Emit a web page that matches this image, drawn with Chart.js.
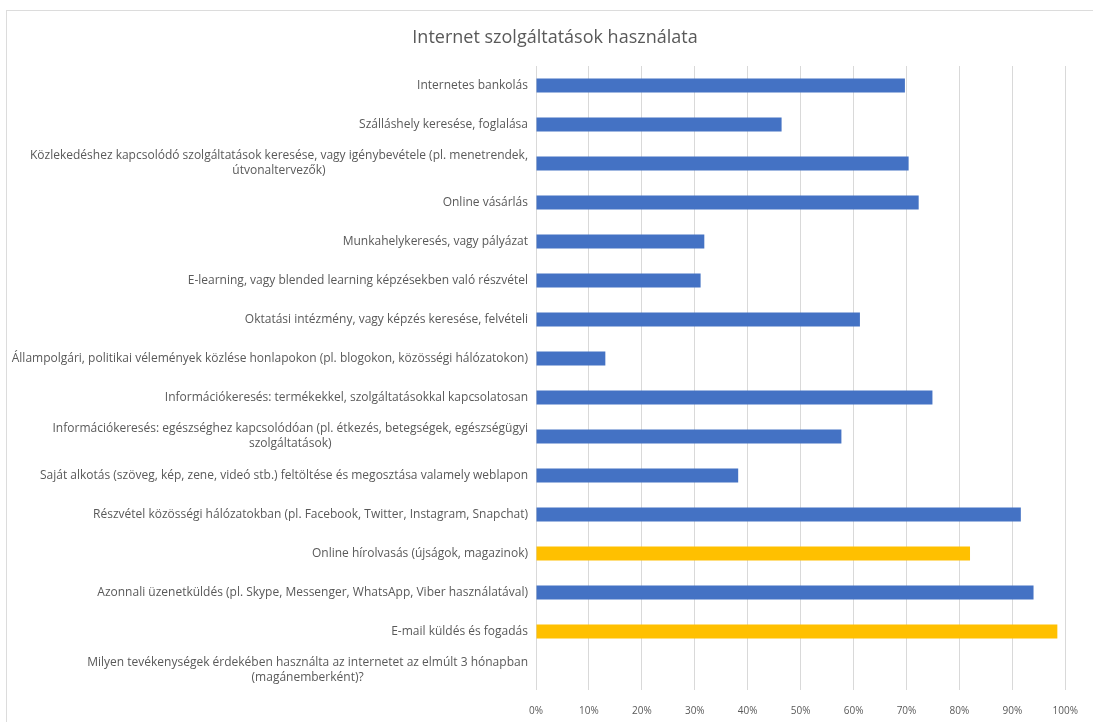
<!DOCTYPE html>
<html>
<head>
<meta charset="utf-8">
<script src="https://cdn.jsdelivr.net/npm/chart.js@4.4.1/dist/chart.umd.min.js"></script>
<style>
  html, body { margin: 0; padding: 0; background: #ffffff; }
  #wrap { position: relative; width: 1093px; height: 722px; overflow: hidden; background: #ffffff; }
  #frame { position: absolute; left: 6px; top: 10px; width: 1200px; height: 800px;
           border: 1px solid #dcdcdc; box-sizing: border-box; }
  #c { position: absolute; left: 0; top: 0; }
</style>
</head>
<body>
<div id="wrap">
  <div id="frame"></div>
  <canvas id="c" width="1093" height="722"></canvas>
</div>
<script>
// Survey: which online activities respondents used in the last 3 months (share of respondents)
const chartTitle = 'Internet szolgáltatások használata';

const categories = [
  'Internetes bankolás',
  'Szálláshely keresése, foglalása',
  ['Közlekedéshez kapcsolódó szolgáltatások keresése, vagy igénybevétele (pl. menetrendek,', 'útvonaltervezők)'],
  'Online vásárlás',
  'Munkahelykeresés, vagy pályázat',
  'E-learning, vagy blended learning képzésekben való részvétel',
  'Oktatási intézmény, vagy képzés keresése, felvételi',
  'Állampolgári, politikai vélemények közlése honlapokon (pl. blogokon, közösségi hálózatokon)',
  'Információkeresés: termékekkel, szolgáltatásokkal kapcsolatosan',
  ['Információkeresés: egészséghez kapcsolódóan (pl. étkezés, betegségek, egészségügyi', 'szolgáltatások)'],
  'Saját alkotás (szöveg, kép, zene, videó stb.) feltöltése és megosztása valamely weblapon',
  'Részvétel közösségi hálózatokban (pl. Facebook, Twitter, Instagram, Snapchat)',
  'Online hírolvasás (újságok, magazinok)',
  'Azonnali üzenetküldés (pl. Skype, Messenger, WhatsApp, Viber használatával)',
  'E-mail küldés és fogadás',
  ['Milyen tevékenységek érdekében használta az internetet az elmúlt 3 hónapban', '(magánemberként)?']
];

// share of respondents (0..1); the question row itself has no bar
const shares = [0.697, 0.464, 0.704, 0.723, 0.318, 0.311, 0.612, 0.131, 0.749, 0.577, 0.382, 0.916, 0.820, 0.940, 0.985, null];

// rows shown in the accent colour
const highlightedRows = ['Online hírolvasás (újságok, magazinok)', 'E-mail küldés és fogadás'];

const xTickValues = [0, 0.1, 0.2, 0.3, 0.4, 0.5, 0.6, 0.7, 0.8, 0.9, 1];
const xTickLabels = ['0%', '10%', '20%', '30%', '40%', '50%', '60%', '70%', '80%', '90%', '100%'];

const BLUE = '#4472C4';
const GOLD = '#FFC000';
const TEXT = '#595959';
const FONT = '"Open Sans", Lato, sans-serif';

const barColours = categories.map(c => highlightedRows.includes(Array.isArray(c) ? c.join(' ') : c) ? GOLD : BLUE);

// Category labels: right-aligned block, each line centred within the block
const categoryLabels = {
  id: 'categoryLabels',
  afterDraw(chart) {
    const ctx = chart.ctx;
    const yScale = chart.scales.y;
    const right = chart.chartArea.left - 8;
    const lineHeight = 15;
    ctx.save();
    ctx.font = '12px ' + FONT;
    ctx.fillStyle = TEXT;
    ctx.textAlign = 'center';
    ctx.textBaseline = 'middle';
    categories.forEach((label, i) => {
      const lines = Array.isArray(label) ? label : [label];
      const blockWidth = Math.max(...lines.map(l => ctx.measureText(l).width));
      const cx = right - blockWidth / 2;
      const cy = yScale.getPixelForValue(i);
      lines.forEach((line, k) => {
        ctx.fillText(line, cx, cy + (k - (lines.length - 1) / 2) * lineHeight);
      });
    });
    ctx.restore();
  }
};

function draw() {
  new Chart(document.getElementById('c'), {
    type: 'bar',
    data: {
      labels: categories,
      datasets: [{
        data: shares,
        backgroundColor: barColours,
        borderWidth: 0,
        categoryPercentage: 1,
        barPercentage: 0.36
      }]
    },
    options: {
      indexAxis: 'y',
      responsive: false,
      animation: false,
      devicePixelRatio: 1,
      layout: { padding: { left: 40, right: 23, top: 0, bottom: 6 } },
      plugins: {
        legend: { display: false },
        tooltip: { enabled: false },
        title: {
          display: true,
          text: chartTitle,
          color: TEXT,
          font: { family: FONT, size: 18, weight: 'normal', lineHeight: 1.2 },
          padding: { top: 27, bottom: 17.4 }
        }
      },
      scales: {
        x: {
          type: 'linear',
          min: 0,
          max: 1,
          afterBuildTicks(scale) {
            scale.ticks = xTickValues.map(v => ({ value: v }));
          },
          afterFit(scale) { scale.height = 26; },
          ticks: {
            color: TEXT,
            font: { family: FONT, size: 10 },
            padding: 15,
            maxRotation: 0,
            callback: (v) => xTickLabels[xTickValues.findIndex(t => Math.abs(t - v) < 1e-9)]
          },
          grid: { color: '#d9d9d9', lineWidth: 1, drawTicks: false },
          border: { display: false }
        },
        y: {
          type: 'category',
          grid: { display: false },
          border: { display: false },
          ticks: { display: false },
          afterFit(scale) { scale.width = 496; }
        }
      }
    },
    plugins: [categoryLabels]
  });
}

if (document.fonts && document.fonts.load) {
  Promise.all([
    document.fonts.load('12px "Open Sans"'),
    document.fonts.load('18px "Open Sans"')
  ]).then(draw, draw);
} else {
  draw();
}
</script>
</body>
</html>
